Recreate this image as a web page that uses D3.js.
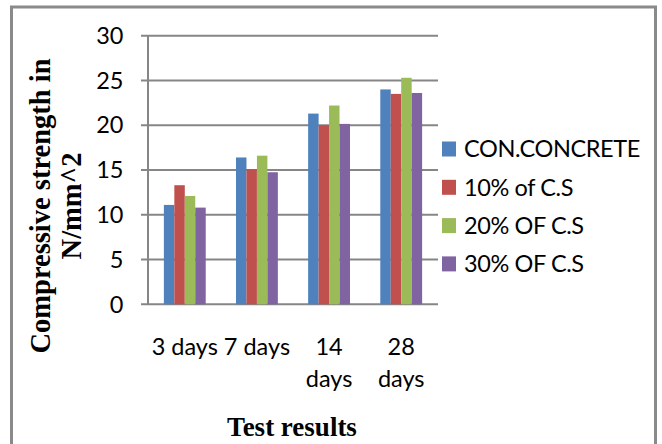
<!DOCTYPE html>
<html>
<head>
<meta charset="utf-8">
<script src="https://cdn.jsdelivr.net/npm/d3@7"></script>
<style>
  html, body { margin: 0; padding: 0; background: #ffffff; }
  svg { display: block; }
</style>
</head>
<body>
<svg id="chart" width="662" height="444"></svg>
<script>
// ---- data ----
const categories = ["3 days", "7 days", "14 days", "28 days"];
const categoryLabelLines = [["3 days"], ["7 days"], ["14", "days"], ["28", "days"]];
const seriesNames = ["CON.CONCRETE", "10% of C.S", "20% OF C.S", "30% OF C.S"];
const conConcrete = [11.1, 16.4, 21.3, 24.0];
const cs10 = [13.3, 15.1, 20.0, 23.5];
const cs20 = [12.1, 16.6, 22.2, 25.3];
const cs30 = [10.8, 14.75, 20.15, 23.6];
const yTicks = [0, 5, 10, 15, 20, 25, 30];
const yTitleLines = ["Compressive strength in", "N/mm^2"];
const xTitle = "Test results";
const colors = ["#4F81BD", "#C0504D", "#9BBB59", "#8064A2"];

const seriesValues = [conConcrete, cs10, cs20, cs30];

// ---- layout ----
const svg = d3.select("#chart");
const sansFont = "Lato, 'Open Sans', sans-serif";
const serifFont = "'Liberation Serif', 'Times New Roman', serif";

const plot = { left: 148, right: 438, top: 35.7, bottom: 304.3 };

// outer frame (bottom edge is off the picture)
svg.append("rect")
  .attr("x", 11.5).attr("y", 7)
  .attr("width", 644).attr("height", 470)
  .attr("fill", "none")
  .attr("stroke", "#8a8a8a")
  .attr("stroke-width", 3);

const y = d3.scaleLinear().domain([0, 30]).range([plot.bottom, plot.top]);
const x0 = d3.scaleBand().domain(categories)
  .range([plot.left, plot.right])
  .paddingInner(0.42).paddingOuter(0.22);
const x1 = d3.scaleBand().domain(d3.range(seriesNames.length))
  .range([0, x0.bandwidth()]);

// gridlines + tick marks
svg.append("g").selectAll("line")
  .data(yTicks)
  .join("line")
  .attr("x1", plot.left - 7)
  .attr("x2", plot.right)
  .attr("y1", d => y(d))
  .attr("y2", d => y(d))
  .attr("stroke", "#868686")
  .attr("stroke-width", 2);

// y axis line
svg.append("line")
  .attr("x1", plot.left).attr("x2", plot.left)
  .attr("y1", y(30)).attr("y2", y(0))
  .attr("stroke", "#868686")
  .attr("stroke-width", 2);

// bars
const groups = svg.append("g").selectAll("g")
  .data(categories)
  .join("g")
  .attr("transform", d => `translate(${x0(d)},0)`);

groups.selectAll("rect")
  .data((c, ci) => seriesValues.map((vals, si) => ({ si, v: vals[ci] })))
  .join("rect")
  .attr("x", d => x1(d.si))
  .attr("width", x1.bandwidth())
  .attr("y", d => y(d.v))
  .attr("height", d => y(0) - y(d.v))
  .attr("fill", d => colors[d.si]);

// y tick labels
svg.append("g").selectAll("text")
  .data(yTicks)
  .join("text")
  .attr("x", 123.5)
  .attr("y", d => y(d))
  .attr("dy", "0.35em")
  .attr("text-anchor", "end")
  .attr("font-family", sansFont)
  .attr("font-size", 23.5)
  .attr("fill", "#000")
  .text(d => d);

// x category labels
const xl = svg.append("g").selectAll("text")
  .data(categories)
  .join("text")
  .attr("text-anchor", "middle")
  .attr("font-family", sansFont)
  .attr("font-size", 23.5)
  .attr("fill", "#000");
xl.each(function (c, i) {
  const cx = x0(c) + x0.bandwidth() / 2;
  d3.select(this).selectAll("tspan")
    .data(categoryLabelLines[i])
    .join("tspan")
    .attr("x", cx)
    .attr("y", (d, j) => 355 + j * 32)
    .text(d => d);
});

// y title (rotated, two lines)
const yt = svg.append("text")
  .attr("transform", "translate(0,206) rotate(-90)")
  .attr("text-anchor", "middle")
  .attr("font-family", serifFont)
  .attr("font-weight", "bold")
  .attr("font-size", 28.5)
  .attr("fill", "#000");
yt.selectAll("tspan")
  .data(yTitleLines)
  .join("tspan")
  .attr("x", 0)
  .attr("y", (d, i) => 50 + i * 31)
  .text(d => d);

// x title
svg.append("text")
  .attr("x", 292)
  .attr("y", 436)
  .attr("text-anchor", "middle")
  .attr("font-family", serifFont)
  .attr("font-weight", "bold")
  .attr("font-size", 27)
  .attr("fill", "#000")
  .text(xTitle);

// legend
const legend = svg.append("g").selectAll("g")
  .data(seriesNames)
  .join("g")
  .attr("transform", (d, i) => `translate(442,${149 + i * 38.3})`);
legend.append("rect")
  .attr("x", 0).attr("y", -7.5)
  .attr("width", 14).attr("height", 15)
  .attr("fill", (d, i) => colors[i]);
legend.append("text")
  .attr("x", 22)
  .attr("y", 0)
  .attr("dy", "0.35em")
  .attr("font-family", sansFont)
  .attr("font-size", 23.5)
  .attr("letter-spacing", -0.4)
  .attr("fill", "#000")
  .text(d => d);
</script>
</body>
</html>
